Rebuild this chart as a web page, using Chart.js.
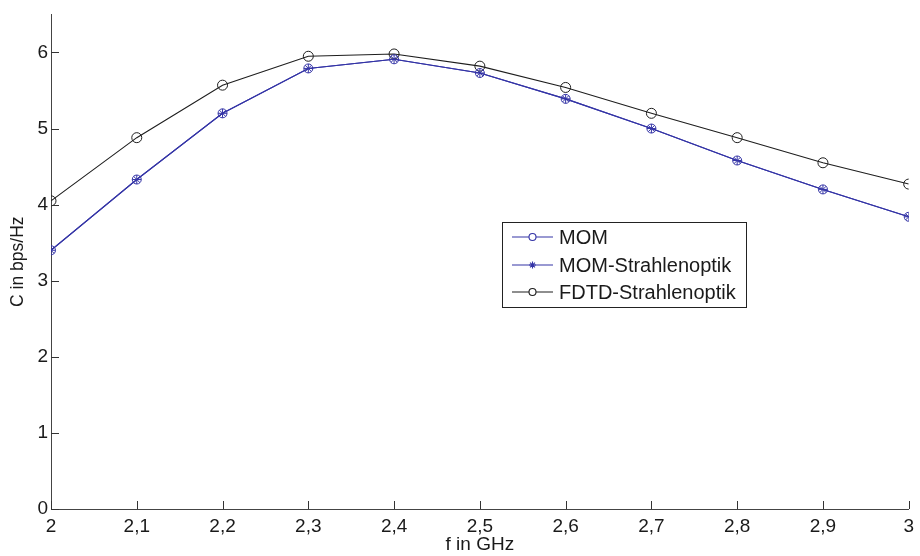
<!DOCTYPE html>
<html>
<head>
<meta charset="utf-8">
<script src="https://cdn.jsdelivr.net/npm/chart.js@4/dist/chart.umd.min.js"></script>
<style>
  html, body { margin: 0; padding: 0; background: #fff; }
  #wrap { width: 920px; height: 556px; }
</style>
</head>
<body>
<div id="wrap"><canvas id="capChart" width="920" height="556"></canvas></div>
<script>
// data
const freqs = [2.0, 2.1, 2.2, 2.3, 2.4, 2.5, 2.6, 2.7, 2.8, 2.9, 3.0];
const mom = [3.40, 4.33, 5.20, 5.79, 5.91, 5.73, 5.39, 5.00, 4.58, 4.20, 3.84];
const momStrahl = [3.40, 4.33, 5.20, 5.79, 5.91, 5.73, 5.39, 5.00, 4.58, 4.20, 3.84];
const fdtd = [4.05, 4.88, 5.57, 5.95, 5.98, 5.82, 5.54, 5.20, 4.88, 4.55, 4.27];
const xTicks = [2.0, 2.1, 2.2, 2.3, 2.4, 2.5, 2.6, 2.7, 2.8, 2.9, 3.0];
const xTickLabels = ['2', '2,1', '2,2', '2,3', '2,4', '2,5', '2,6', '2,7', '2,8', '2,9', '3'];
const yTicks = [0, 1, 2, 3, 4, 5, 6];

const FONT = "'Liberation Sans', Arial, Helvetica, sans-serif";
const BLUE = '#3434a6';
const BLACK = '#1e1e1e';

const pts = arr => freqs.map((f, i) => ({ x: f, y: arr[i] }));

// MATLAB style inward ticks
const innerTicks = {
  id: 'innerTicks',
  afterDraw(chart) {
    const c = chart.ctx, a = chart.chartArea;
    const xs = chart.scales.x, ys = chart.scales.y;
    c.save();
    c.strokeStyle = '#333';
    c.lineWidth = 1;
    c.beginPath();
    xTicks.forEach(v => {
      const p = Math.round(xs.getPixelForValue(v)) + 0.5;
      c.moveTo(p, a.bottom); c.lineTo(p, a.bottom - 8);
    });
    yTicks.forEach(v => {
      const p = Math.round(ys.getPixelForValue(v)) + 0.5;
      c.moveTo(a.left, p); c.lineTo(a.left + 8, p);
    });
    c.stroke();
    c.restore();
  }
};

// legend box inside the plot
const boxLegend = {
  id: 'boxLegend',
  afterDraw(chart) {
    const c = chart.ctx;
    const bx = 502, by = 222, bw = 244, bh = 85;
    c.save();
    c.fillStyle = '#fff';
    c.fillRect(bx, by, bw, bh);
    c.strokeStyle = '#222';
    c.lineWidth = 1;
    c.strokeRect(bx + 0.5, by + 0.5, bw, bh);
    const rows = [237, 265, 292];
    chart.data.datasets.forEach((ds, i) => {
      const y = rows[i];
      c.strokeStyle = ds.borderColor;
      c.lineWidth = 1.1;
      c.beginPath();
      c.moveTo(512, y); c.lineTo(553, y);
      c.stroke();
      c.fillStyle = '#fff';
      Chart.helpers.drawPoint(c, {
        pointStyle: ds.pointStyle,
        radius: 3.5,
        borderWidth: 1,
        rotation: 0
      }, 532.5, y);
      c.fillStyle = '#1a1a1a';
      c.font = '20px ' + FONT;
      c.textBaseline = 'middle';
      c.textAlign = 'left';
      c.fillText(ds.label, 559, y + 1);
    });
    c.restore();
  }
};

new Chart(document.getElementById('capChart'), {
  type: 'line',
  data: {
    datasets: [
      {
        label: 'MOM',
        data: pts(mom),
        borderColor: BLUE,
        backgroundColor: 'transparent',
        borderWidth: 1.1,
        pointStyle: 'circle',
        pointRadius: 4.5,
        pointBorderWidth: 1,
        pointBorderColor: BLUE,
        pointBackgroundColor: 'transparent'
      },
      {
        label: 'MOM-Strahlenoptik',
        data: pts(momStrahl),
        borderColor: BLUE,
        backgroundColor: 'transparent',
        borderWidth: 1.1,
        pointStyle: 'star',
        pointRadius: 4.5,
        pointBorderWidth: 1,
        pointBorderColor: BLUE,
        pointBackgroundColor: 'transparent'
      },
      {
        label: 'FDTD-Strahlenoptik',
        data: pts(fdtd),
        borderColor: BLACK,
        backgroundColor: 'transparent',
        borderWidth: 1.1,
        pointStyle: 'circle',
        pointRadius: 5,
        pointBorderWidth: 1,
        pointBorderColor: BLACK,
        pointBackgroundColor: 'transparent'
      }
    ]
  },
  options: {
    responsive: false,
    animation: false,
    layout: { padding: { left: 0, top: 10, right: 11, bottom: 0 } },
    scales: {
      x: {
        type: 'linear',
        min: 2, max: 3,
        afterBuildTicks: s => { s.ticks = xTicks.map(v => ({ value: v })); },
        afterFit: s => { s.height = 47; },
        ticks: {
          color: '#1a1a1a',
          font: { family: FONT, size: 19 },
          padding: 6,
          maxRotation: 0,
          autoSkip: false,
          callback: (v, i) => xTickLabels[i]
        },
        grid: { display: false, drawTicks: false },
        border: { display: true, color: '#444', width: 1 },
        title: {
          display: true,
          text: 'f in GHz',
          color: '#1a1a1a',
          font: { family: FONT, size: 19 },
          padding: { top: 0, bottom: 0 }
        }
      },
      y: {
        min: 0, max: 6.5,
        afterBuildTicks: s => { s.ticks = yTicks.map(v => ({ value: v })); },
        afterFit: s => { s.width = 51; },
        ticks: {
          color: '#1a1a1a',
          font: { family: FONT, size: 19 },
          padding: 3
        },
        grid: { display: false, drawTicks: false },
        border: { display: true, color: '#444', width: 1 },
        title: {
          display: true,
          text: 'C in bps/Hz',
          color: '#1a1a1a',
          font: { family: FONT, size: 17.5 },
          padding: { top: 8, bottom: 0 }
        }
      }
    },
    plugins: {
      legend: { display: false },
      tooltip: { enabled: false }
    }
  },
  plugins: [innerTicks, boxLegend]
});
</script>
</body>
</html>
